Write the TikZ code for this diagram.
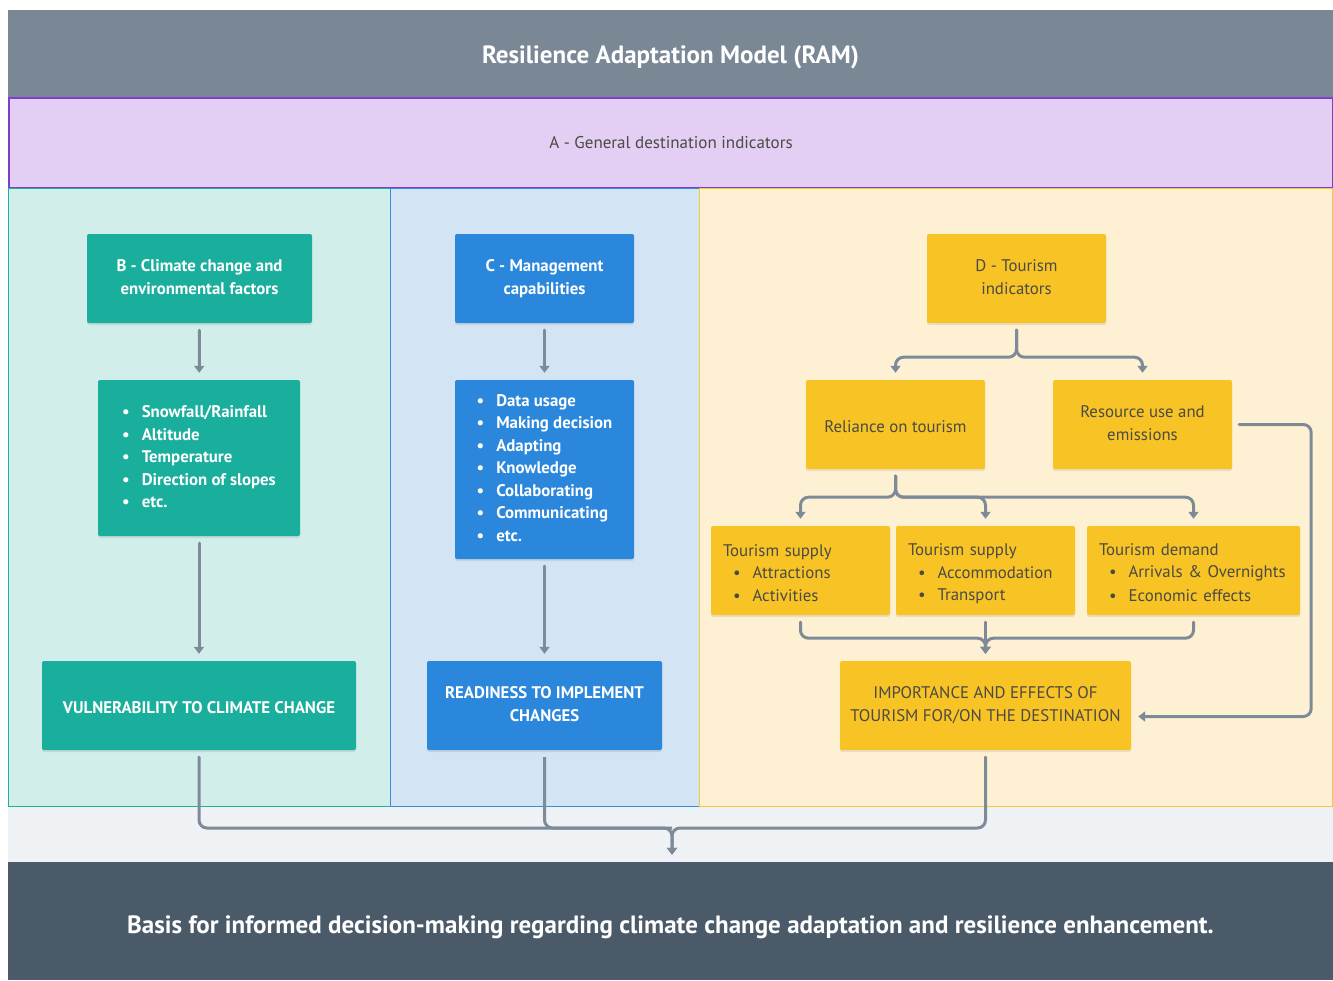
\documentclass[tikz,border=0pt]{standalone}
\usepackage{fontspec}
\setmainfont{PT Sans}
\usetikzlibrary{calc,shadows,arrows.meta}

\definecolor{ramgray}{HTML}{7A8795}
\definecolor{ramslate}{HTML}{4B5A69}
\definecolor{ramgap}{HTML}{EEF2F5}
\definecolor{ramlav}{HTML}{E3CEF4}
\definecolor{rampurple}{HTML}{7E3FCB}
\definecolor{bpanel}{HTML}{D1EEEB}
\definecolor{bline}{HTML}{1FB09E}
\definecolor{ramteal}{HTML}{1AAE9C}
\definecolor{cpanel}{HTML}{D3E5F5}
\definecolor{cline}{HTML}{3A8BD8}
\definecolor{ramblue}{HTML}{2B87DB}
\definecolor{dpanel}{HTML}{FEF1D3}
\definecolor{dline}{HTML}{F3C83A}
\definecolor{ramyellow}{HTML}{F7C325}
\definecolor{ramtext}{HTML}{4B4A45}
\definecolor{linkgray}{HTML}{7D8B99}

\newcommand{\boxstrut}{\rule[-3pt]{0pt}{22pt}}
\newcommand{\itm}{\textbullet\hspace{12pt}}

\tikzset{
  box/.style={rounded corners=2pt, inner sep=0pt, minimum height=89pt, align=center,
    execute at begin node=\boxstrut, execute at end node=\boxstrut,
    drop shadow={opacity=0.18, shadow xshift=0pt, shadow yshift=-2pt}},
  bbox/.style={box, fill=ramteal, text=white, font=\bfseries\fontsize{16.8}{22.5}\selectfont},
  cbox/.style={box, fill=ramblue, text=white, font=\bfseries\fontsize{16.8}{22.5}\selectfont},
  dbox/.style={box, fill=ramyellow, text=ramtext, font=\fontsize{16.8}{22.5}\selectfont},
  banner/.style={inner sep=0pt, minimum width=1325pt, text=white, font=\bfseries\fontsize{25}{30}\selectfont},
  link/.style={draw=linkgray, line width=3pt, rounded corners=8pt, line cap=round,
    -{Triangle[length=7pt,width=10pt]}, shorten <=7pt, shorten >=7pt},
  merge/.style={draw=linkgray, line width=3pt, rounded corners=8pt, shorten <=7pt}
}

\begin{document}
\begin{tikzpicture}[x=1pt, y=-1pt]
  %%%%% START %%%%%

  \fill[white] (0,0) rectangle (1333,980);

  % title and band A
  \node[banner, fill=ramgray, minimum height=88pt, text height=23pt, text depth=5pt] (title) at (670.5,54)
    {Resilience Adaptation Model (RAM)};
  \draw[fill=ramlav, draw=rampurple, line width=1.5pt] (8.75,98) rectangle (1332.25,188);
  \node[text=ramtext, font=\fontsize{17}{20}\selectfont] (aband) at (671,143) {A - General destination indicators};

  % the three panels
  \draw[fill=bpanel, draw=bline, line width=1pt] (8.5,188.5) rectangle (390,806);
  \draw[fill=cpanel, draw=cline, line width=1pt] (390,188.5) rectangle (699,806);
  \draw[fill=dpanel, draw=dline, line width=1pt] (699,188.5) rectangle (1332.5,806);
  \fill[ramgap] (8,806.5) rectangle (1333,862);
  \node[banner, fill=ramslate, minimum height=118pt, text height=27pt, text depth=3pt] (basis) at (670.5,921)
    {Basis for informed decision-making regarding climate change adaptation and resilience enhancement.};

  % column B
  \node[bbox, minimum width=225pt] (b1) at (199.5,278.5) {B - Climate change and\\environmental factors};
  \node[bbox, minimum width=202pt, minimum height=156pt, align=left] (b2) at (199,458)
    {\itm Snowfall/Rainfall\\\itm Altitude\\\itm Temperature\\\itm Direction of slopes\\\itm etc.};
  \node[bbox, minimum width=314pt] (b3) at (199,705.5) {VULNERABILITY TO CLIMATE CHANGE};

  % column C
  \node[cbox, minimum width=179pt] (c1) at (544.5,278.5) {C - Management\\capabilities};
  \node[cbox, minimum width=179pt, minimum height=179pt, align=left] (c2) at (544.5,469.5)
    {\itm Data usage\\\itm Making decision\\\itm Adapting\\\itm Knowledge\\\itm Collaborating\\\itm Communicating\\\itm etc.};
  \node[cbox, minimum width=235pt] (c3) at (544.5,705.5) {READINESS TO IMPLEMENT\\CHANGES};

  % column D
  \node[dbox, minimum width=179pt] (d1) at (1016.5,278.5) {D - Tourism\\indicators};
  \node[dbox, minimum width=179pt] (d2) at (895.5,424.5) {Reliance on tourism};
  \node[dbox, minimum width=179pt] (d3) at (1142.5,424.5) {Resource use and\\emissions};
  \node[dbox, minimum width=179pt, text width=155pt, align=left] (d4) at (800.5,570.5)
    {Tourism supply\\\hspace*{10pt}\itm Attractions\\\hspace*{10pt}\itm Activities};
  \node[dbox, minimum width=179pt, text width=155pt, align=left] (d5) at (985.5,570.5)
    {Tourism supply\\\hspace*{10pt}\itm Accommodation\\\hspace*{10pt}\itm Transport};
  \node[dbox, minimum width=213pt, text width=189pt, align=left] (d6) at (1193.5,570.5)
    {Tourism demand\\\hspace*{10pt}\itm Arrivals \& Overnights\\\hspace*{10pt}\itm Economic effects};
  \node[dbox, minimum width=291pt] (d7) at (985.5,705.5) {IMPORTANCE AND EFFECTS OF\\TOURISM FOR/ON THE DESTINATION};

  % connectors
  \draw[link] (b1) -- (b2);
  \draw[link] (b2) -- (b3);
  \draw[link] (c1) -- (c2);
  \draw[link] (c2) -- (c3);

  \coordinate (fd1) at ($(d1.south)+(0,34)$);
  \draw[link] (d1.south) -- (fd1) -| (d2.north);
  \draw[link] (d1.south) -- (fd1) -| (d3.north);

  \coordinate (fd2) at ($(d2.south)+(0,28)$);
  \draw[link] (d2.south) -- (fd2) -| (d4.north);
  \draw[link] (d2.south) -- (fd2) -| (d5.north);
  \draw[link] (d2.south) -- (fd2) -| (d6.north);

  \coordinate (fd3) at ($(d5.south)+(0,23)$);
  \draw[link] (d4.south) |- (fd3) -- (d7.north);
  \draw[link] (d6.south) |- (fd3) -- (d7.north);
  \draw[link] (d5) -- (d7);

  \draw[link] (d3.east) -- ++(79,0) |- ($(d7.east)+(0,11)$);

  \coordinate (base) at (672,828);
  \draw[link] (b3.south) |- (base) -- (base |- basis.north);
  \draw[link] (d7.south) |- (base) -- (base |- basis.north);
  \draw[merge] (c3.south) |- (base);

  %%%%% END %%%%%
\end{tikzpicture}
\end{document}
